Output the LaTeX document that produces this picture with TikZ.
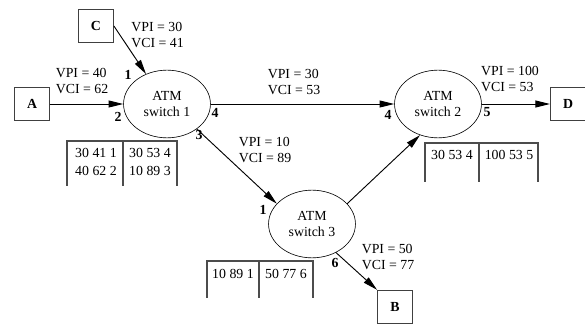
\documentclass[tikz,border=0pt]{standalone}
\usepackage{fontspec}
\setmainfont{Liberation Serif}
\usetikzlibrary{shapes.geometric, arrows.meta, positioning}

\begin{document}
\begin{tikzpicture}[x=0.65pt, y=-0.65pt, font=\small,
    term/.style={draw=black!75, line width=0.8pt, minimum width=22.5pt, minimum height=21.5pt, inner sep=0pt, font=\small\bfseries},
    sw/.style={draw, ellipse, minimum width=56.5pt, minimum height=44pt, inner sep=0pt, align=center, font=\small},
    lbl/.style={align=left, inner sep=0pt, font=\small},
    port/.style={inner sep=0pt, font=\small\bfseries},
    cell/.style={inner sep=0pt, font=\small},
    tbl/.style={draw=black!70, line width=0.9pt},
    arrow/.style={-{Triangle[length=9.5pt, width=4.5pt]}, line width=0.6pt}]
    \useasboundingbox (0,0) rectangle (585,328);
    % end stations
    \node[term] (C) at (96,26) {C};
    \node[term] (A) at (32,104) {A};
    \node[term] (D) at (568,104) {D};
    \node[term] (B) at (395,307) {B};
    % switches
    \node[sw] (sw1) at (167,104) {ATM\\switch 1};
    \node[sw] (sw2) at (438,104) {ATM\\switch 2};
    \node[sw] (sw3) at (312,224) {ATM\\switch 3};
    % links
    \draw[arrow] (C.east) -- (sw1.125);
    \draw[arrow] (A.east) -- (sw1.west);
    \draw[arrow] (sw1.east) -- (sw2.west);
    \draw[arrow] (sw1.-40) -- (sw3.150);
    \draw[arrow] (sw3.30) -- (sw2.-120);
    \draw[arrow] (sw3.-50) -- (B.north west);
    \draw[arrow] (sw2.east) -- (D.west);
    % VPI/VCI labels
    \node[lbl, anchor=west] (lC) at (131,35) {VPI = 30\\VCI = 41};
    \node[lbl] (lA) at (82,81) {VPI = 40\\VCI = 62};
    \node[lbl] (l12) at (294,82) {VPI = 30\\VCI = 53};
    \node[lbl] (l13) at (265,150) {VPI = 10\\VCI = 89};
    \node[lbl] (lD) at (510,79) {VPI = 100\\VCI = 53};
    \node[lbl] (lB) at (388,257) {VPI = 50\\VCI = 77};
    % ports
    \node[port] (p11) at (128,75) {1};
    \node[port] (p12) at (118,117) {2};
    \node[port] (p14) at (215,113) {4};
    \node[port] (p13) at (199,135) {3};
    \node[port] (p24) at (388,115) {4};
    \node[port] (p25) at (487,112) {5};
    \node[port] (p31) at (263,210) {1};
    \node[port] (p36) at (335,263) {6};
    % tables
    \draw[tbl] (67,186) -- (67,141) -- (177,141) -- (177,186) (123,141) -- (123,186);
    \node[cell] (t1a) at (96,153) {30 41 1};
    \node[cell] (t1b) at (150,153) {30 53 4};
    \node[cell] (t1c) at (96,171) {40 62 2};
    \node[cell] (t1d) at (150,171) {10 89 3};
    \draw[tbl] (425,182) -- (425,143) -- (538,143) -- (538,182) (479,143) -- (479,182);
    \node[cell] (t2a) at (452,155) {30 53 4};
    \node[cell] (t2b) at (509,155) {100 53 5};
    \draw[tbl] (207,298) -- (207,261) -- (313,261) -- (313,298) (259,261) -- (259,298);
    \node[cell] (t3a) at (233,274) {10 89 1};
    \node[cell] (t3b) at (286,274) {50 77 6};
\end{tikzpicture}
\end{document}
